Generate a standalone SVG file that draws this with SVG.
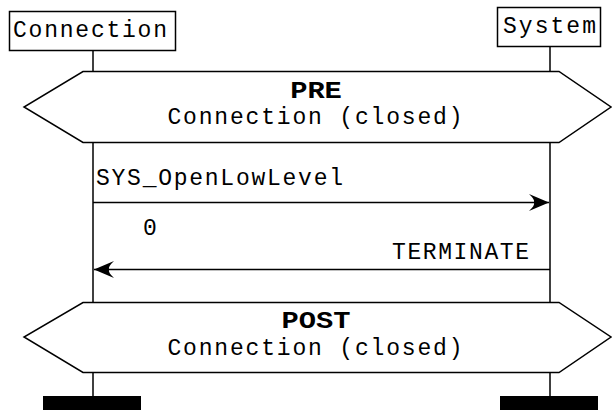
<svg xmlns="http://www.w3.org/2000/svg" width="612" height="411" viewBox="0 0 612 411">
<style>
.ln{stroke:#000;stroke-width:1.5;fill:none}
.bx{stroke:#000;stroke-width:1.5;fill:#fff}
.t{font-family:"Liberation Mono","Courier New",monospace;font-size:23px;fill:#000}
.b{font-weight:bold}
</style>
<defs>
<marker id="ah" viewBox="0 0 22 18" refX="21" refY="9" markerWidth="22" markerHeight="18" markerUnits="userSpaceOnUse" orient="auto">
<path d="M21,9 L1,0.5 Q7,6 6,9 Q7,12 1,17.5 Z" fill="#000"/>
</marker>
</defs>
<rect width="612" height="411" fill="#fff"/>
<g id="connection">
<rect class="bx" x="9.5" y="11.5" width="166" height="39"/>
<text class="t" x="13" y="37" textLength="154" lengthAdjust="spacing">Connection</text>
<line class="ln" x1="93" y1="51" x2="93" y2="71"/>
<line class="ln" x1="93" y1="142" x2="93" y2="302"/>
<line class="ln" x1="93" y1="372" x2="93" y2="396"/>
<rect x="43" y="396" width="98" height="14" fill="#000"/>
</g>
<g id="system">
<rect class="bx" x="497.5" y="7.5" width="103" height="39"/>
<text class="t" x="503" y="33" textLength="93" lengthAdjust="spacing">System</text>
<line class="ln" x1="550" y1="47" x2="550" y2="71"/>
<line class="ln" x1="550" y1="142" x2="550" y2="302"/>
<line class="ln" x1="550" y1="372" x2="550" y2="396"/>
<rect x="500" y="396" width="98" height="14" fill="#000"/>
</g>
<g id="pre">
<polygon class="bx" points="83,71.5 559,71.5 611,107 559,142.5 83,142.5 24,107"/>
<text class="t b" transform="translate(316,98) scale(1.25,1)" text-anchor="middle">PRE</text>
<text class="t" x="315" y="124" text-anchor="middle" textLength="295" lengthAdjust="spacing">Connection (closed)</text>
</g>
<g id="post">
<polygon class="bx" points="83,302.5 559,302.5 611,337 559,372.5 83,372.5 24,337"/>
<text class="t b" transform="translate(316,328) scale(1.25,1)" text-anchor="middle">POST</text>
<text class="t" x="315" y="355" text-anchor="middle" textLength="295" lengthAdjust="spacing">Connection (closed)</text>
</g>
<g id="connectors">
<line class="ln" x1="93" y1="202.5" x2="549" y2="202.5" marker-end="url(#ah)"/>
<text class="t" x="96" y="185" textLength="247" lengthAdjust="spacing">SYS_OpenLowLevel</text>
<text class="t" x="143" y="235">0</text>
<line class="ln" x1="550" y1="269.5" x2="94" y2="269.5" marker-end="url(#ah)"/>
<text class="t" x="529" y="259" text-anchor="end" textLength="137" lengthAdjust="spacing">TERMINATE</text>
</g>
</svg>
